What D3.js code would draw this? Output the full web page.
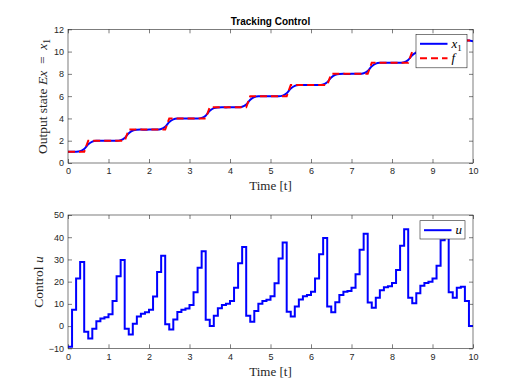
<!DOCTYPE html>
<html>
<head>
<meta charset="utf-8">
<script src="https://cdn.jsdelivr.net/npm/d3@7"></script>
<style>
body { margin: 0; background: #fff; }
svg { display: block; }
</style>
</head>
<body>
<div id="chart"></div>
<script>
// sampling grid, 0.1 s
var tGrid = d3.range(0, 101).map(i => i / 10)

// output state x1 at every 0.1 s
var x1Vals = [
  1.00, 1.00, 1.01, 1.05, 1.25, 1.68, 1.92, 1.99, 2.00, 2.00,
  2.00, 2.00, 2.00, 2.05, 2.25, 2.68, 2.92, 2.99, 3.00, 2.99,
  3.00, 3.00, 3.00, 3.05, 3.25, 3.68, 3.92, 3.99, 4.00, 3.99,
  4.00, 4.00, 4.00, 4.05, 4.25, 4.68, 4.92, 4.99, 5.00, 4.99,
  5.00, 5.00, 5.00, 5.05, 5.25, 5.68, 5.92, 5.99, 6.00, 5.99,
  6.00, 6.00, 6.00, 6.05, 6.25, 6.68, 6.92, 6.99, 7.00, 6.99,
  7.00, 7.00, 7.00, 7.05, 7.25, 7.68, 7.92, 7.99, 8.00, 7.99,
  8.00, 8.00, 8.00, 8.05, 8.25, 8.68, 8.92, 8.99, 9.00, 8.99,
  9.00, 9.00, 9.00, 9.05, 9.25, 9.68, 9.92, 9.99, 10.00, 9.99,
  10.00, 10.00, 10.00, 10.05, 10.25, 10.68, 10.92, 10.99, 11.00, 10.99,
  10.93
]

// reference f, breakpoints
var fTimes = [0, 0.4, 0.5, 1.4, 1.5, 2.4, 2.5, 3.4, 3.5, 4.4, 4.5, 5.4, 5.5, 6.4, 6.5, 7.4, 7.5, 8.4, 8.5, 9.4, 9.5, 10]
var fVals  = [1, 1, 2, 2, 3, 3, 4, 4, 5, 5, 6, 6, 7, 7, 8, 8, 9, 9, 10, 10, 11, 11]

// control u, held for 0.1 s each
var uVals = [
  -9.3, 7.4, 21.4, 28.9, -2.6, -5.6, -1.2, 2.2, 3.4, 4.0,
  5.3, 11.3, 22.4, 29.7, -1.2, -3.8, 1.0, 4.3, 5.6, 6.2,
  7.4, 13.3, 24.4, 31.7, 0.8, -1.5, 3.0, 6.3, 7.4, 7.9,
  9.5, 15.2, 26.3, 33.7, 2.8, 0.0, 4.7, 8.0, 9.5, 10.0,
  11.3, 17.3, 28.3, 35.6, 4.7, 2.0, 6.8, 10.1, 11.3, 11.8,
  13.4, 19.3, 30.4, 37.6, 6.5, 4.3, 8.8, 12.0, 13.4, 14.0,
  15.4, 21.4, 32.3, 39.7, 8.8, 6.2, 10.7, 14.0, 15.4, 15.8,
  17.3, 23.3, 34.4, 41.6, 10.6, 8.3, 12.8, 16.1, 17.5, 17.9,
  19.4, 25.3, 36.2, 43.6, 12.7, 10.3, 14.8, 18.2, 19.4, 19.9,
  21.4, 27.2, 38.6, 45.5, 15.2, 12.8, 17.2, 17.7, 11.3, 0.0
]

var topTicksY = [0, 2, 4, 6, 8, 10, 12]
var botTicksY = [-10, 0, 10, 20, 30, 40, 50]
var ticksX = [0, 1, 2, 3, 4, 5, 6, 7, 8, 9, 10]

var W = 523, H = 392
var axCol = '#262626'
var tickFont = '"Liberation Sans", Arial, sans-serif'
var texFont = '"Liberation Serif", "Times New Roman", serif'

var svg = d3.select('#chart').append('svg')
    .attr('width', W)
    .attr('height', H)

var x = d3.scaleLinear().domain([0, 10]).range([68, 473])
var yTop = d3.scaleLinear().domain([0, 12]).range([163, 29.3])
var yBot = d3.scaleLinear().domain([-10, 50]).range([348.3, 215])

function drawAxes(y, yTicks, id) {
    var g = svg.append('g')
    var y0 = y.range()[0], y1 = y.range()[1]
    var x0 = x.range()[0], x1 = x.range()[1]

    g.append('rect')
        .attr('x', x0).attr('y', y1)
        .attr('width', x1 - x0).attr('height', y0 - y1)
        .attr('fill', '#fff')

    // inward ticks on all four sides, matlab style
    var ax = [
        {a: d3.axisBottom(x).tickValues(ticksX).tickSize(-4).tickPadding(5), t: 'translate(0,' + y0 + ')'},
        {a: d3.axisTop(x).tickValues(ticksX).tickSize(-4).tickFormat(''), t: 'translate(0,' + y1 + ')'},
        {a: d3.axisLeft(y).tickValues(yTicks).tickSize(-4).tickPadding(4), t: 'translate(' + x0 + ',0)'},
        {a: d3.axisRight(y).tickValues(yTicks).tickSize(-4).tickFormat(''), t: 'translate(' + x1 + ',0)'}
    ]
    ax.forEach(function(d) {
        var s = g.append('g').attr('transform', d.t).call(d.a)
        s.select('.domain').remove()
        s.selectAll('line').attr('stroke', axCol).attr('stroke-width', 0.6)
        s.selectAll('text')
            .attr('fill', axCol)
            .style('font-family', tickFont)
            .style('font-size', '9px')
    })

    svg.append('clipPath').attr('id', id)
        .append('rect')
        .attr('x', x0).attr('y', y1)
        .attr('width', x1 - x0).attr('height', y0 - y1)

    return g
}

function drawBox(y) {
    svg.append('rect')
        .attr('x', x.range()[0]).attr('y', y.range()[1])
        .attr('width', x.range()[1] - x.range()[0])
        .attr('height', y.range()[0] - y.range()[1])
        .attr('fill', 'none')
        .attr('stroke', axCol)
        .attr('stroke-width', 0.6)
}

// ---- top panel ----
drawAxes(yTop, topTicksY, 'clipTop')

var lineX1 = d3.line()
    .x((d, i) => x(tGrid[i]))
    .y(d => yTop(d))
    .curve(d3.curveMonotoneX)

var lineF = d3.line()
    .x((d, i) => x(fTimes[i]))
    .y(d => yTop(d))

var topLines = svg.append('g').attr('clip-path', 'url(#clipTop)')
topLines.append('path')
    .datum(x1Vals)
    .attr('d', lineX1)
    .attr('fill', 'none')
    .attr('stroke', '#0000ff')
    .attr('stroke-width', 2)
topLines.append('path')
    .datum(fVals)
    .attr('d', lineF)
    .attr('fill', 'none')
    .attr('stroke', '#ff0000')
    .attr('stroke-width', 2)
    .attr('stroke-dasharray', '7,4')
drawBox(yTop)

// ---- bottom panel ----
drawAxes(yBot, botTicksY, 'clipBot')

var uPts = uVals.map((v, i) => [tGrid[i], v])
uPts.push([10, uVals[uVals.length - 1]])

var lineU = d3.line()
    .x(d => x(d[0]))
    .y(d => yBot(d[1]))
    .curve(d3.curveStepAfter)

svg.append('g').attr('clip-path', 'url(#clipBot)')
    .append('path')
    .datum(uPts)
    .attr('d', lineU)
    .attr('fill', 'none')
    .attr('stroke', '#0000ff')
    .attr('stroke-width', 2)
drawBox(yBot)

// ---- title and labels ----
svg.append('text')
    .attr('x', (x.range()[0] + x.range()[1]) / 2)
    .attr('y', 25)
    .attr('text-anchor', 'middle')
    .style('font-family', tickFont)
    .style('font-size', '10px')
    .style('font-weight', 'bold')
    .text('Tracking Control')

function xLabel(yPos) {
    svg.append('text')
        .attr('x', (x.range()[0] + x.range()[1]) / 2)
        .attr('y', yPos)
        .attr('text-anchor', 'middle')
        .style('font-family', texFont)
        .style('font-size', '13px')
        .attr('fill', axCol)
        .text('Time [t]')
}
xLabel(190)
xLabel(376)

var yl1 = svg.append('text')
    .attr('transform', 'translate(47,96.5) rotate(-90)')
    .attr('text-anchor', 'middle')
    .style('font-family', texFont)
    .style('font-size', '13.5px')
    .attr('fill', axCol)
yl1.append('tspan').text('Output state ')
yl1.append('tspan').style('font-style', 'italic').text('Ex')
yl1.append('tspan').text('\u2002=\u2002')
yl1.append('tspan').style('font-style', 'italic').text('x')
yl1.append('tspan').attr('dy', 3).style('font-size', '9.5px').text('1')

var yl2 = svg.append('text')
    .attr('transform', 'translate(43,282) rotate(-90)')
    .attr('text-anchor', 'middle')
    .style('font-family', texFont)
    .style('font-size', '13.5px')
    .attr('fill', axCol)
yl2.append('tspan').text('Control ')
yl2.append('tspan').style('font-style', 'italic').text('u')

// ---- legends ----
function legend(bx, by, bw, bh, items) {
    var g = svg.append('g')
    g.append('rect')
        .attr('x', bx).attr('y', by)
        .attr('width', bw).attr('height', bh)
        .attr('fill', '#fff')
        .attr('stroke', axCol)
        .attr('stroke-width', 0.6)
    items.forEach(function(it, i) {
        var ly = by + 9.5 + i * 14.5
        g.append('line')
            .attr('x1', bx + 4).attr('x2', bx + 31.5)
            .attr('y1', ly).attr('y2', ly)
            .attr('stroke', it.col)
            .attr('stroke-width', 2)
            .attr('stroke-dasharray', it.dash)
        var t = g.append('text')
            .attr('x', bx + 35.5)
            .attr('y', ly + 4)
            .style('font-family', texFont)
            .style('font-size', '13px')
            .attr('fill', '#000')
        t.append('tspan').style('font-style', 'italic').text(it.name)
        if (it.sub) t.append('tspan').attr('dy', 3).style('font-size', '9px').text(it.sub)
    })
}
legend(416, 34.3, 51, 33.5, [
    {name: 'x', sub: '1', col: '#0000ff', dash: null},
    {name: 'f', col: '#ff0000', dash: '7,4'}
])
legend(420, 220.7, 45, 18.3, [
    {name: 'u', col: '#0000ff', dash: null}
])
</script>
</body>
</html>
